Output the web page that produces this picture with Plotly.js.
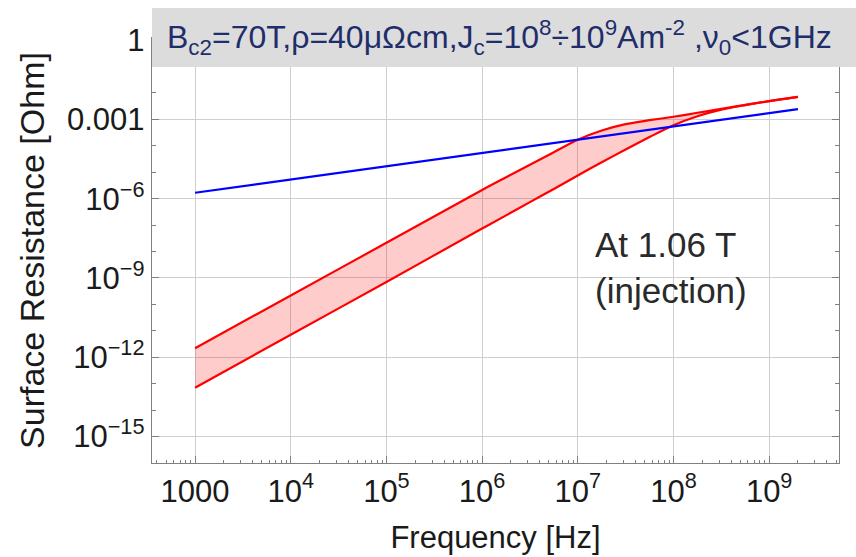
<!DOCTYPE html>
<html>
<head>
<meta charset="utf-8">
<script src="https://cdn.plot.ly/plotly-3.0.1.min.js"></script>
<style>html,body{margin:0;padding:0;background:#fff;}#chart{width:856px;height:557px;}</style>
</head>
<body>
<div id="chart"></div>
<script>
// Frequencies [Hz]
const freqRed = [1e3, 1e4, 1e5, 1e6, 1.78e6, 3.16e6, 5.62e6, 1e7, 1.78e7, 3.16e7, 5.62e7, 1e8, 1.78e8, 3.16e8, 5.62e8, 1e9, 2e9];
// Surface resistance [Ohm], upper edge of band (Jc = 1e8)
const rsUpper = [2.19e-12, 2.19e-10, 2.14e-8, 2.14e-6, 6.46e-6, 1.91e-5, 5.75e-5, 1.70e-4, 3.80e-4, 6.61e-4, 9.33e-4, 1.26e-3, 1.78e-3, 2.51e-3, 3.55e-3, 4.90e-3, 7.08e-3];
// lower edge of band (Jc = 1e9)
const rsLower = [7.08e-14, 7.08e-12, 7.08e-10, 7.41e-8, 2.34e-7, 7.41e-7, 2.34e-6, 7.59e-6, 2.40e-5, 7.24e-5, 2.14e-4, 6.03e-4, 1.32e-3, 2.34e-3, 3.47e-3, 4.90e-3, 7.08e-3];
// Normal-state (blue) line
const freqBlue = [1e3, 1e4, 1e5, 1e6, 1e7, 1e8, 1e9, 2e9];
const rsBlue = [1.68e-6, 5.37e-6, 1.70e-5, 5.37e-5, 1.70e-4, 5.50e-4, 1.74e-3, 2.45e-3];

const xTickVals = [1e3, 1e4, 1e5, 1e6, 1e7, 1e8, 1e9];
const xTickText = ['1000', '10<sup>4</sup>', '10<sup>5</sup>', '10<sup>6</sup>', '10<sup>7</sup>', '10<sup>8</sup>', '10<sup>9</sup>'];
const yTickVals = [1, 1e-3, 1e-6, 1e-9, 1e-12, 1e-15];
const yTickText = ['1', '0.001', '10<sup>\u22126</sup>', '10<sup>\u22129</sup>', '10<sup>\u221212</sup>', '10<sup>\u221215</sup>'];

const titleText = 'B<sub>c2</sub>=70T,\u03c1=40\u03bc\u03a9cm,J<sub>c</sub>=10<sup>8</sup>\u00f710<sup>9</sup>Am<sup>-2</sup> ,\u03bd<sub>0</sub><1GHz';
const noteText = 'At 1.06 T<br>(injection)';

// minor tick positions
const xMinor = [];
for (let e = 2; e <= 9; e++) { for (let m = 2; m <= 9; m++) { const v = m * Math.pow(10, e); if (v < 5.4e9) xMinor.push(v); } }
const yMinor = [];
for (let e = -16; e <= 0; e++) { if (e % 3 !== 0) yMinor.push(Math.pow(10, e)); }

const font = 'Liberation Sans, Arial, sans-serif';

const traces = [
  { x: freqRed, y: rsLower, mode: 'lines', line: { color: '#ff0000', width: 2.2, shape: 'spline', smoothing: 0.8 }, hoverinfo: 'skip', showlegend: false },
  { x: freqRed, y: rsUpper, mode: 'lines', fill: 'tonexty', fillcolor: 'rgba(255,0,0,0.2)', line: { color: '#ff0000', width: 2.2, shape: 'spline', smoothing: 0.8 }, hoverinfo: 'skip', showlegend: false },
  { x: freqBlue, y: rsBlue, mode: 'lines', line: { color: '#0000ff', width: 2.2 }, hoverinfo: 'skip', showlegend: false }
];

const axisCommon = {
  showline: true, linecolor: '#808080', linewidth: 1.3, mirror: 'allticks',
  ticks: 'inside', ticklen: 7, tickcolor: '#808080', tickwidth: 1,
  showgrid: true, gridcolor: '#cfcfcf', gridwidth: 1, zeroline: false,
  tickfont: { family: font, size: 31, color: '#1a1a1a' }
};

const layout = {
  width: 856, height: 557,
  margin: { l: 152, r: 17, t: 38, b: 94 },
  paper_bgcolor: '#ffffff', plot_bgcolor: '#ffffff',
  showlegend: false,
  xaxis: Object.assign({}, axisCommon, {
    type: 'log', range: [2.55, 9.73],
    tickmode: 'array', tickvals: xTickVals, ticktext: xTickText,
    minor: { tickmode: 'array', tickvals: xMinor, ticks: 'inside', ticklen: 3, tickcolor: '#808080', showgrid: false },
    title: { text: 'Frequency [Hz]', font: { family: font, size: 31, color: '#1a1a1a' }, standoff: 18 }
  }),
  yaxis: Object.assign({}, axisCommon, {
    type: 'log', range: [-16, 0.08],
    tickmode: 'array', tickvals: yTickVals, ticktext: yTickText,
    minor: { tickmode: 'array', tickvals: yMinor, ticks: 'inside', ticklen: 4, tickcolor: '#808080', showgrid: false },
    title: { text: 'Surface Resistance [Ohm]', font: { family: font, size: 34, color: '#1a1a1a' }, standoff: 12 }
  }),
  shapes: [
    { type: 'rect', xref: 'paper', yref: 'paper', x0: 0, x1: 1.0247, y0: 0.932, y1: 1.0706, fillcolor: '#dcdcdc', line: { width: 0 }, layer: 'above' }
  ],
  annotations: [
    { xref: 'paper', yref: 'paper', x: 0.506, y: 1.0013, xanchor: 'center', yanchor: 'middle', showarrow: false, text: titleText, font: { family: font, size: 32, color: '#1f2d6b' } },
    { xref: 'paper', yref: 'paper', x: 0.642, y: 0.461, xanchor: 'left', yanchor: 'middle', align: 'left', showarrow: false, text: noteText, font: { family: font, size: 35, color: '#2a2a2a' } }
  ]
};

Plotly.newPlot('chart', traces, layout, { staticPlot: true, displayModeBar: false });
</script>
</body>
</html>
